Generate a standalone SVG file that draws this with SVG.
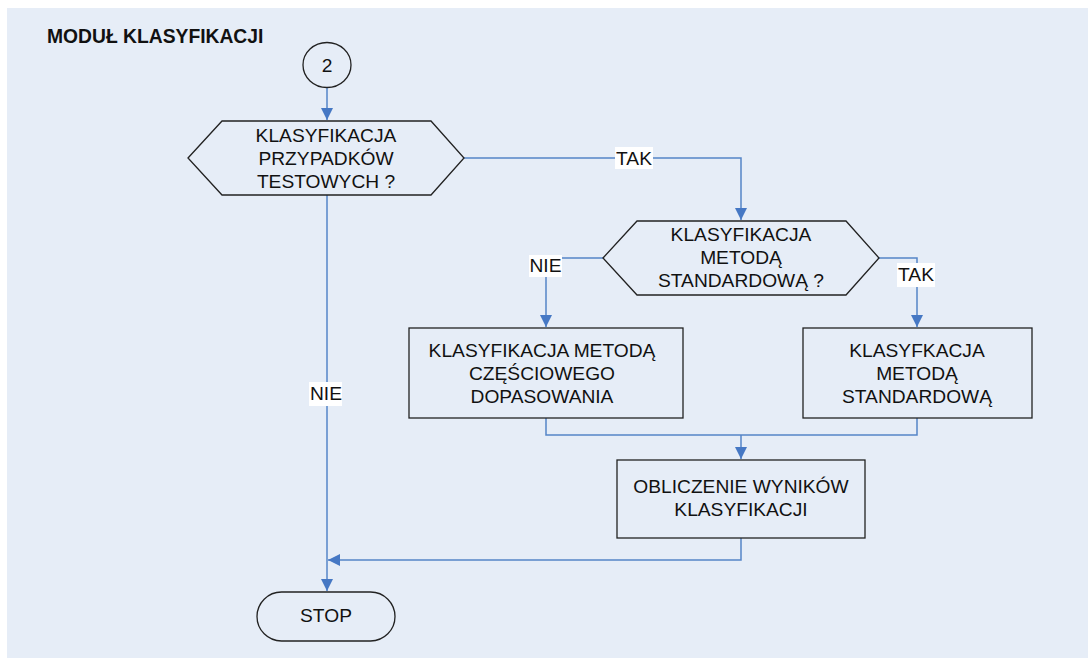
<svg xmlns="http://www.w3.org/2000/svg" width="1088" height="659" viewBox="0 0 1088 659">
<style>
text{font-family:"Liberation Sans",Arial,sans-serif;font-size:19.2px;fill:#111;text-anchor:middle}
.title{font-weight:bold;text-anchor:start;font-size:19.3px}
.shape{fill:none;stroke:#222;stroke-width:1.3}
.conn{fill:none;stroke:#5585C8;stroke-width:1.5}
.lbl{fill:#fff}
</style>
<defs>
<marker id="arr" viewBox="0 0 12 12" refX="12" refY="6" markerWidth="12" markerHeight="12" markerUnits="userSpaceOnUse" orient="auto">
<path d="M0,0 L12,6 L0,12 Z" fill="#4678C4"/>
</marker>
</defs>
<rect x="7" y="8" width="1081" height="650" fill="#E6EDF7"/>
<text class="title" x="47" y="43">MODUŁ KLASYFIKACJI</text>
<g id="connectors">
<path class="conn" d="M327,88 L327,120" marker-end="url(#arr)"/>
<path class="conn" d="M464,158 L741,158 L741,220" marker-end="url(#arr)"/>
<path class="conn" d="M603,258 L546,258 L546,327" marker-end="url(#arr)"/>
<path class="conn" d="M879,258 L917,258 L917,327" marker-end="url(#arr)"/>
<path class="conn" d="M546,418 L546,435 L917,435 L917,418"/>
<path class="conn" d="M741,435 L741,459" marker-end="url(#arr)"/>
<path class="conn" d="M741,538 L741,560 L328,560" marker-end="url(#arr)"/>
<path class="conn" d="M327,195 L327,591" marker-end="url(#arr)"/>
<rect class="lbl" x="615" y="147" width="38" height="22"/>
<text x="634" y="165">TAK</text>
<rect class="lbl" x="529" y="255" width="33" height="22"/>
<text x="545.5" y="272">NIE</text>
<rect class="lbl" x="897" y="263" width="38" height="24"/>
<text x="916" y="281">TAK</text>
<rect class="lbl" x="309" y="382" width="33" height="24"/>
<text x="326" y="400">NIE</text>
</g>
<g id="n-start">
<ellipse class="shape" cx="327" cy="65" rx="24" ry="22.5"/>
<text x="327" y="72">2</text>
</g>
<g id="n-dec1">
<polygon class="shape" points="188,158 222,121 431,121 464,158 431,195 222,195"/>
<text x="326" y="142">KLASYFIKACJA</text>
<text x="326" y="165">PRZYPADKÓW</text>
<text x="326" y="188">TESTOWYCH ?</text>
</g>
<g id="n-dec2">
<polygon class="shape" points="603,258 637,221 846,221 879,258 846,295 637,295"/>
<text x="741" y="241">KLASYFIKACJA</text>
<text x="741" y="264">METODĄ</text>
<text x="741" y="287">STANDARDOWĄ ?</text>
</g>
<g id="n-partial">
<rect class="shape" x="409" y="328" width="274" height="90"/>
<text x="542" y="357">KLASYFIKACJA METODĄ</text>
<text x="542" y="380">CZĘŚCIOWEGO</text>
<text x="542" y="403">DOPASOWANIA</text>
</g>
<g id="n-standard">
<rect class="shape" x="803" y="328" width="229" height="90"/>
<text x="917" y="357">KLASYFKACJA</text>
<text x="917" y="380">METODĄ</text>
<text x="917" y="403">STANDARDOWĄ</text>
</g>
<g id="n-results">
<rect class="shape" x="617" y="460" width="248" height="78"/>
<text x="741" y="493">OBLICZENIE WYNIKÓW</text>
<text x="741" y="516">KLASYFIKACJI</text>
</g>
<g id="n-stop">
<rect class="shape" x="257" y="592" width="138" height="49" rx="24.5"/>
<text x="326" y="622">STOP</text>
</g>
</svg>
